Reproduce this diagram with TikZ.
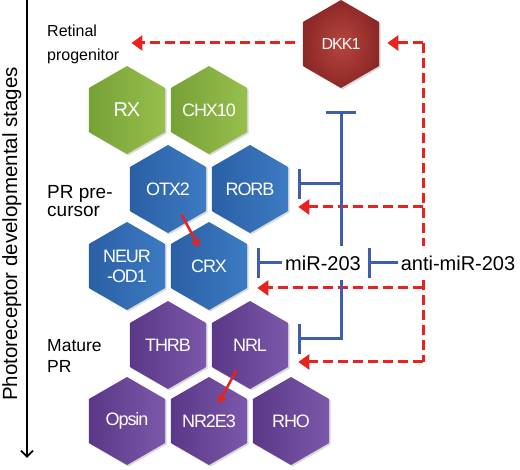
\documentclass[tikz,border=0pt]{standalone}
\usepackage{fontspec}
\setmainfont{Liberation Sans}
\newfontfamily\esafont[LetterSpace=-6]{Liberation Sans}
\usetikzlibrary{shapes.geometric,arrows.meta,shadows,calc}

\definecolor{verdescuro}{HTML}{76A136}
\definecolor{verdechiaro}{HTML}{97BF4D}
\definecolor{bluscuro}{HTML}{2A5FA4}
\definecolor{bluchiaro}{HTML}{3D7BC3}
\definecolor{violascuro}{HTML}{5A3787}
\definecolor{violachiaro}{HTML}{7C58AA}
\definecolor{rossoscuro}{HTML}{8C2826}
\definecolor{rossochiaro}{HTML}{B7453F}
\definecolor{rossofreccia}{HTML}{E8221E}
\definecolor{bluinib}{HTML}{3F5EAC}

\begin{document}
\begin{tikzpicture}[x=1pt,y=-1pt,
  esagono/.style={regular polygon, regular polygon sides=6,
    shape border rotate=30, minimum size=88pt, inner sep=0pt,
    text=white, align=center,
    font=\esafont\fontsize{18}{20}\selectfont,
    drop shadow={opacity=0.3, shadow xshift=1.5pt, shadow yshift=-1.5pt}},
  progen/.style={esagono, left color=verdescuro, right color=verdechiaro},
  precur/.style={esagono, left color=bluscuro, right color=bluchiaro},
  maturo/.style={esagono, left color=violascuro, right color=violachiaro},
  stadio/.style={anchor=west, align=left, inner sep=0pt},
  attiva/.style={rossofreccia, line width=3pt, dash pattern=on 10pt off 5pt},
  punta/.style={-{Triangle[length=11pt,width=15pt]}},
  inibisce/.style={bluinib, line width=3pt, -{Bar[width=30pt]}},
  freccia/.style={rossofreccia, line width=2.5pt, -{Triangle[length=8pt,width=9pt]}},
  mirna/.style={font=\fontsize{20}{20}\selectfont, minimum height=33pt, inner xsep=3pt}]
  \useasboundingbox (0,0) rectangle (520,470);

  % Asse degli stadi di sviluppo
  \coordinate (asse-su) at (27,0);
  \coordinate (asse-giu) at (27,458);
  \draw[line width=1.8pt, -{Straight Barb[length=6pt,width=12pt]}] (asse-su) -- (asse-giu);
  \node[rotate=90, anchor=base, inner sep=0pt, font=\fontsize{20.5}{20.5}\selectfont]
    (asse) at (17,234) {Photoreceptor developmental stages};

  % Nomi degli stadi
  \node[stadio, font=\fontsize{16}{24}\selectfont] (retinal) at (47,44) {Retinal\\progenitor};
  \node[stadio, font=\fontsize{19}{18}\selectfont] (prec) at (47,201) {PR pre-\\cursor};
  \node[stadio, font=\fontsize{17.5}{21}\selectfont] (mature) at (47,356) {Mature\\PR};

  % Esagoni
  \node[progen, font=\esafont\fontsize{20}{20}\selectfont] (rx) at (127,110) {RX};
  \node[progen] (chx) at (209,110) {CHX10};
  \node[precur] (otx2) at (168,189) {OTX2};
  \node[precur] (rorb) at (250,189) {RORB};
  \node[precur] (neurod) at (127,266) {NEUR\\-OD1};
  \node[precur] (crx) at (209,266) {CRX};
  \node[maturo] (thrb) at (168,345) {THRB};
  \node[maturo] (nrl) at (250,345) {NRL};
  \node[maturo] (opsin) at (127,421) {Opsin};
  \node[maturo] (nr2e3) at (209,421) {NR2E3};
  \node[maturo] (rho) at (291,421) {RHO};
  \node[esagono, inner color=rossochiaro, outer color=rossoscuro,
    font=\esafont\fontsize{16}{16}\selectfont] (dkk) at (341,44) {DKK1};

  % miRNA
  \node[mirna] (mir) at (323,263) {miR-203};
  \node[mirna] (anti) at (458,263) {anti-miR-203};

  % Frecce rosse tratteggiate
  \coordinate (angolo-su) at (423,43);
  \coordinate (angolo-giu) at (423,362);
  \coordinate (v-rorb) at (423,207);
  \coordinate (v-crx) at (423,288);
  \draw[attiva] (angolo-su) -- (anti.north -| angolo-su);
  \draw[attiva] (anti.south -| angolo-su) -- (angolo-giu);
  \draw[attiva, punta] (angolo-su) -- ([xshift=8pt]dkk.east |- angolo-su);
  \draw[attiva, punta] ([xshift=-8pt]dkk.west |- angolo-su) -- ([xshift=12pt]retinal.east |- angolo-su);
  \draw[attiva, punta] (v-rorb) -- ([xshift=10pt]rorb.east |- v-rorb);
  \draw[attiva, punta] (v-crx) -- ([xshift=10pt]crx.east |- v-crx);
  \draw[attiva, punta] (angolo-giu) -- ([xshift=10pt]nrl.east |- angolo-giu);

  % Inibizioni di miR-203
  \coordinate (barra-su) at (341,111);
  \coordinate (nodo-rorb) at (341,184);
  \coordinate (nodo-nrl) at (341,339);
  \draw[inibisce] (mir.north -| barra-su) -- (barra-su);
  \draw[inibisce] (nodo-rorb) -- ([xshift=10pt]rorb.east |- nodo-rorb);
  \draw[inibisce] (mir.west) -- ([xshift=10pt]crx.east |- mir.west);
  \draw[inibisce] (mir.south -| barra-su) |- ([xshift=10pt]nrl.east |- nodo-nrl);
  \draw[inibisce] (anti.west) -- ([xshift=4pt]mir.east);

  % Frecce rosse piene
  \draw[freccia] ($(otx2)!0.33!(crx)$) -- ($(otx2)!0.76!(crx)$);
  \draw[freccia] ($(nrl)!0.33!(nr2e3)$) -- ($(nrl)!0.77!(nr2e3)$);
\end{tikzpicture}
\end{document}
